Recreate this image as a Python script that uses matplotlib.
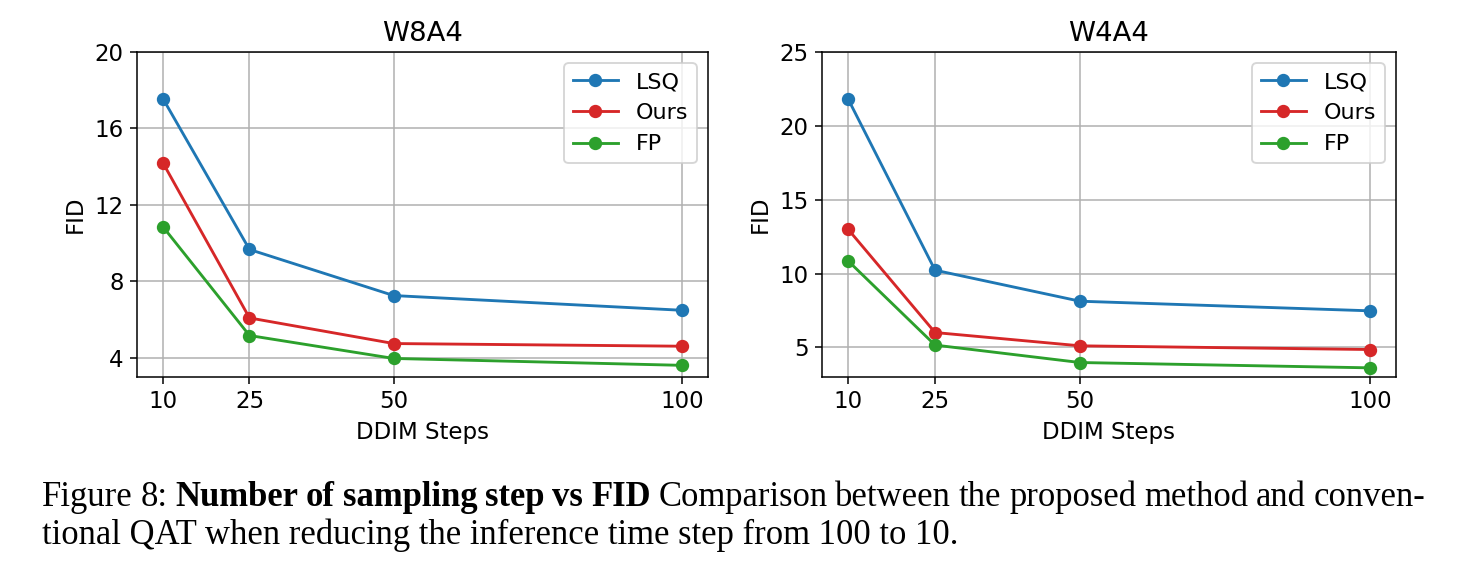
import matplotlib
matplotlib.use("Agg")
import matplotlib.pyplot as plt

# ---------------- DATA ----------------
steps = [10, 25, 50, 100]

w8a4_lsq = [17.56, 9.67, 7.26, 6.49]
w8a4_ours = [14.20, 6.09, 4.75, 4.61]
w8a4_fp = [10.86, 5.17, 3.97, 3.61]

w4a4_lsq = [21.82, 10.23, 8.13, 7.48]
w4a4_ours = [13.00, 6.01, 5.11, 4.86]
w4a4_fp = [10.86, 5.16, 3.98, 3.62]

caption_line1 = [("Figure", False), ("8:", False), ("Number", True), ("of", True),
                 ("sampling", True), ("step", True), ("vs", True), ("FID", True),
                 ("Comparison", False), ("between", False), ("the", False),
                 ("proposed", False), ("method", False), ("and", False), ("conven-", False)]
caption_line2 = "tional QAT when reducing the inference time step from 100 to 10."

# ---------------- STYLE ----------------
plt.rcParams.update({
    'font.size': 12,
    'axes.titlesize': 14.4,
    'axes.labelsize': 12,
    'xtick.labelsize': 12,
    'ytick.labelsize': 12,
    'legend.fontsize': 11.7,
})

W, H = 1460, 578
DPI = 137
fig = plt.figure(figsize=(W / DPI, H / DPI), dpi=DPI)


def panel(rect, title, lsq, ours, fp, yticks, ylim):
    ax = fig.add_axes(rect)
    ax.plot(steps, lsq, marker='o', color='tab:blue', label='LSQ')
    ax.plot(steps, ours, marker='o', color='tab:red', label='Ours')
    ax.plot(steps, fp, marker='o', color='tab:green', label='FP')
    ax.set_xticks(steps)
    ax.set_yticks(yticks)
    ax.set_ylim(*ylim)
    ax.grid(True)
    ax.set_title(title)
    ax.set_xlabel('DDIM Steps')
    ax.set_ylabel('FID')
    ax.legend(loc='upper right')
    return ax


def px_rect(x0, x1, y0, y1):
    return [x0 / W, 1 - y1 / H, (x1 - x0) / W, (y1 - y0) / H]


panel(px_rect(137, 708, 52, 377), 'W8A4', w8a4_lsq, w8a4_ours, w8a4_fp,
      [4, 8, 12, 16, 20], (3, 20))
panel(px_rect(822, 1396, 52, 377), 'W4A4', w4a4_lsq, w4a4_ours, w4a4_fp,
      [5, 10, 15, 20, 25], (3, 25))

# ---------------- CAPTION (justified first line) ----------------
cap_font = dict(family='Liberation Serif', fontsize=18.2, va='baseline', ha='left')
renderer = fig.canvas.get_renderer()
words = [fig.text(0, 0, w, fontweight='bold' if b else 'normal', **cap_font)
         for w, b in caption_line1]
widths = [t.get_window_extent(renderer).width for t in words]
x_left, x_right = 42, 1425
gap = (x_right - x_left - sum(widths)) / (len(words) - 1)
x = x_left
for t, w in zip(words, widths):
    t.set_position((x / W, 1 - 506 / H))
    x += w + gap

fig.text(x_left / W, 1 - 544 / H, caption_line2, **cap_font)

fig.savefig('out.png', dpi=DPI)
